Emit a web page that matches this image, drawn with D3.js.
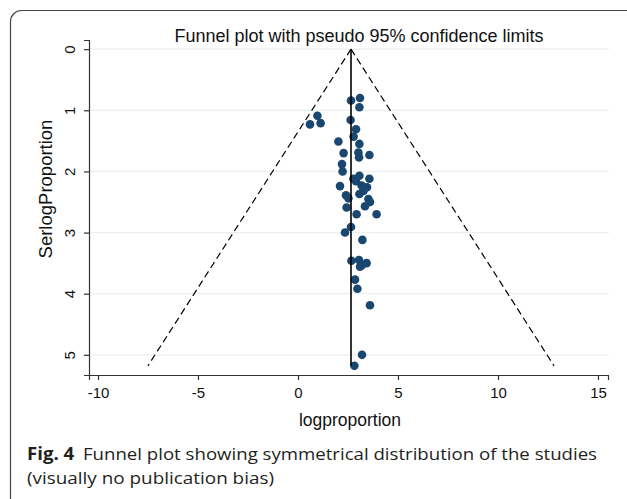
<!DOCTYPE html>
<html>
<head>
<meta charset="utf-8">
<script src="https://cdn.jsdelivr.net/npm/d3@7"></script>
<style>
  body { margin: 0; background: #fff; }
  svg { display: block; }
</style>
</head>
<body>
<div id="chart"></div>
<script>
// Study estimates
const logProportion = [2.65, 3.10, 3.07, 0.97, 0.60, 1.13, 2.63, 2.90, 2.78, 2.02,
    3.07, 2.28, 3.02, 3.05, 3.57, 2.20, 2.23, 2.77, 3.07, 3.57,
    2.10, 2.90, 3.18, 3.27, 3.07, 2.40, 2.52, 3.52, 3.60, 3.35,
    2.43, 2.93, 3.93, 2.65, 2.35, 3.22, 2.67, 3.05, 3.18, 3.43,
    3.10, 2.85, 2.97, 3.60, 3.20, 2.82, 3.45, 3.30];
const seLogProportion = [0.84, 0.80, 0.95, 1.09, 1.23, 1.21, 1.16, 1.31, 1.43, 1.51,
    1.55, 1.70, 1.69, 1.77, 1.73, 1.88, 2.00, 2.12, 2.07, 2.12,
    2.24, 2.16, 2.23, 2.32, 2.37, 2.39, 2.44, 2.45, 2.50, 2.57,
    2.59, 2.70, 2.70, 2.91, 3.00, 3.12, 3.46, 3.45, 3.54, 3.50,
    3.56, 3.77, 3.92, 4.19, 5.00, 5.18, 2.26, 2.28];
const pooled = 2.65;     // pooled log proportion (vertical line)
const seMax = 5.18;      // bottom of the funnel
const xTicks = [-10, -5, 0, 5, 10, 15];
const yTicks = [0, 1, 2, 3, 4, 5];

const width = 627, height = 499;
const font = "'Liberation Sans', Arial, sans-serif";

const svg = d3.select("#chart").append("svg").attr("width", width).attr("height", height);

// Frame with rounded corners (right and bottom run off the picture)
svg.append("rect")
    .attr("x", 10.5).attr("y", 10.5)
    .attr("width", 640).attr("height", 520)
    .attr("rx", 11)
    .attr("fill", "none")
    .attr("stroke", "#444")
    .attr("stroke-width", 1.2);

// Scales
const x = d3.scaleLinear().domain([-10.45, 15.5]).range([89, 608]);
const y = d3.scaleLinear().domain([-0.15, 5.33]).range([40, 375]);

// Grid lines
svg.append("g").selectAll("line").data(yTicks).join("line")
    .attr("x1", x.range()[0]).attr("x2", 609)
    .attr("y1", d => y(d)).attr("y2", d => y(d))
    .attr("stroke", "#e8f0f2").attr("stroke-width", 1.2);

// Axes
const yAxis = svg.append("g").attr("transform", "translate(89,0)")
    .call(d3.axisLeft(y).tickValues(yTicks).tickSize(5).tickFormat(d => String(d)));
// Stata style: labels turned to read bottom-up
yAxis.selectAll(".tick text")
    .attr("transform", "rotate(-90)")
    .attr("x", 0).attr("y", -19).attr("dy", "0.35em")
    .attr("text-anchor", "middle");

const xAxis = svg.append("g").attr("transform", "translate(0,375)")
    .call(d3.axisBottom(x).tickValues(xTicks).tickSize(5).tickPadding(7).tickFormat(d => String(d)));

[yAxis, xAxis].forEach(g => {
    g.selectAll("path, line").attr("stroke", "#333").attr("stroke-width", 1.2);
    g.selectAll("text").attr("font-family", font).attr("font-size", 15).attr("fill", "#111");
});

// Pseudo 95% confidence limits
const funnel = [
    [[pooled, 0], [pooled - 1.96 * seMax, seMax]],
    [[pooled, 0], [pooled + 1.96 * seMax, seMax]]
];
const line = d3.line().x(d => x(d[0])).y(d => y(d[1]));
svg.append("g").selectAll("path").data(funnel).join("path")
    .attr("d", line)
    .attr("fill", "none")
    .attr("stroke", "#000")
    .attr("stroke-width", 1.2)
    .attr("stroke-dasharray", "7,4");

// Points
svg.append("g").selectAll("circle").data(logProportion).join("circle")
    .attr("cx", d => x(d))
    .attr("cy", (d, i) => y(seLogProportion[i]))
    .attr("r", 4.3)
    .attr("fill", "#1a476f");

// Pooled estimate line
svg.append("path")
    .attr("d", line([[pooled, 0], [pooled, seMax]]))
    .attr("stroke", "#000")
    .attr("stroke-width", 1.6);

// Title and axis labels
svg.append("text").attr("x", 359).attr("y", 42).attr("text-anchor", "middle")
    .attr("font-family", font).attr("font-size", 18).attr("fill", "#111")
    .text("Funnel plot with pseudo 95% confidence limits");
svg.append("text").attr("transform", "translate(52,189) rotate(-90)").attr("text-anchor", "middle")
    .attr("font-family", font).attr("font-size", 18.5).attr("fill", "#111")
    .text("SerlogProportion");
svg.append("text").attr("x", 350).attr("y", 426).attr("text-anchor", "middle")
    .attr("font-family", font).attr("font-size", 17.5).attr("fill", "#111")
    .text("logproportion");

// Figure caption
const capFont = "'Open Sans', 'Noto Sans', sans-serif";
const cap1 = svg.append("text").attr("x", 27).attr("y", 460)
    .attr("font-family", capFont).attr("font-size", 17).attr("fill", "#231f20");
cap1.append("tspan").attr("font-weight", "bold").text("Fig. 4");
cap1.append("tspan").attr("dx", 8).text("Funnel plot showing symmetrical distribution of the studies");
cap1.attr("textLength", 570).attr("lengthAdjust", "spacingAndGlyphs");
svg.append("text").attr("x", 27).attr("y", 484)
    .attr("font-family", capFont).attr("font-size", 17).attr("fill", "#231f20")
    .attr("textLength", 247).attr("lengthAdjust", "spacingAndGlyphs")
    .text("(visually no publication bias)");
</script>
</body>
</html>
